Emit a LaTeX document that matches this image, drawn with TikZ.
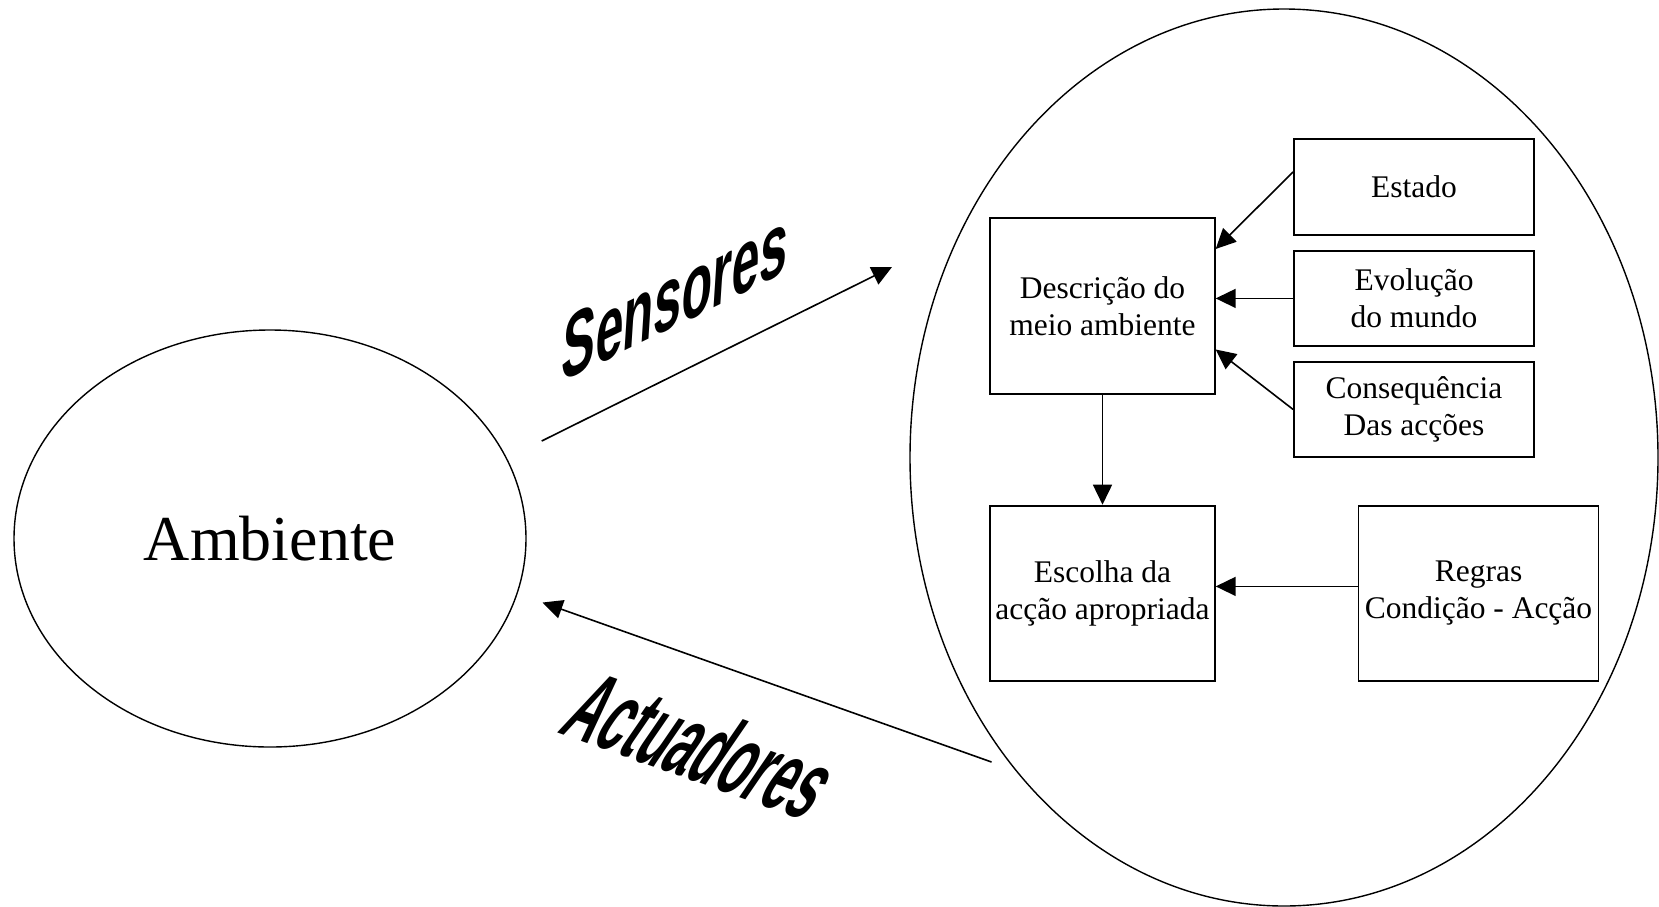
\documentclass[tikz,border=0pt]{standalone}
\usepackage{fontspec}
\setmainfont{Liberation Serif}
\setsansfont{Liberation Sans}
\usetikzlibrary{shapes.geometric,arrows.meta,calc}

\newcommand{\boxtextfont}{\fontsize{31.5}{37}\selectfont}
\newcommand{\bigtextfont}{\fontsize{64}{76}\selectfont}
\newcommand{\arttextfont}{\fontsize{50}{60}\selectfont\sffamily\bfseries}

\begin{document}
\begin{tikzpicture}[x=1pt,y=1pt,
  line width=1.6pt,
  box/.style={draw, rectangle, inner sep=0pt, align=center, font=\boxtextfont, line width=1.9pt},
  sidebox/.style={box, minimum width=240pt, minimum height=95.2pt},
  mainbox/.style={box, minimum width=224.5pt, minimum height=175.7pt},
  oval/.style={draw, ellipse, inner sep=0pt, line width=1.4pt},
  link/.style={-{Triangle[length=20pt,width=19pt]}},
  wordart/.style={font=\arttextfont, inner sep=0pt, anchor=base west}]

\useasboundingbox (0,0) rectangle (1659,-906);

% environment and agent
\node[oval, minimum width=512pt, minimum height=417pt, font=\bigtextfont]
  (amb) at (270,-538.5) {Ambiente};
\node[oval, minimum width=748pt, minimum height=897pt] (agente) at (1284,-457.5) {};

% agent internals
\node[mainbox] (descr)   at (1102.5,-305.8) {Descrição do\\meio ambiente};
\node[mainbox] (escolha) at (1102.5,-593.5) {Escolha da\\acção apropriada};
\node[sidebox] (estado)  at (1414,-187) {Estado};
\node[sidebox] (evol)    at (1414,-298.4) {Evolução\\do mundo};
\node[sidebox] (conseq)  at (1414,-409.4) {Consequência\\Das acções};
\node[box, minimum width=240pt, minimum height=175.7pt] (regras) at (1478.5,-593.5)
  {Regras\\Condição - Acção};

\draw[link] ($(estado.north west)!0.345!(estado.south west)$)
  -- ($(descr.north east)!0.18!(descr.south east)$);
\draw[link] (evol.west) -- (evol.west -| descr.east);
\draw[link] (conseq.west) -- ($(descr.north east)!0.746!(descr.south east)$);
\draw[link] (descr.south) -- (escolha.north);
\draw[link] ($(regras.north west)!0.46!(regras.south west)$)
  -- ($(escolha.north east)!0.46!(escolha.south east)$);

% perception and action
\coordinate (sensIn)  at (541.7,-441);
\coordinate (sensOut) at (892,-267);
\coordinate (actIn)   at (991.5,-762);
\coordinate (actOut)  at (542.5,-602.5);
\draw[link] (sensIn) -- (sensOut);
\draw[link] (actIn) -- (actOut);

% slanted, stretched labels
\node[wordart, cm={1.0,0.49,0.12,1.85,(0,0)}] (sens) at (560,-383) {Sensores};
\node[wordart, cm={0.9,-0.32,1.2,1.75,(0,0)}] (act) at (556,-732) {Actuadores};

\end{tikzpicture}
\end{document}
